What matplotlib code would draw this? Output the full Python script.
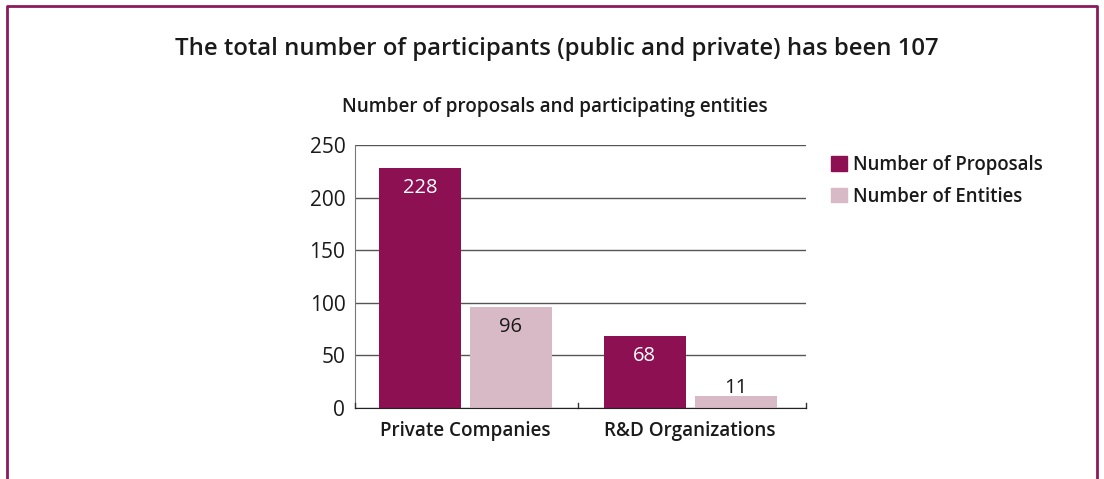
import numpy as np
import matplotlib
matplotlib.use("Agg")
import matplotlib.pyplot as plt
from matplotlib.patches import Patch

plt.rcParams['font.family'] = ['Open Sans', 'DejaVu Sans']

categories = ["Private Companies", "R&D Organizations"]
proposals = [228, 68]
entities = [96, 11]
series_names = ["Number of Proposals", "Number of Entities"]
yticks = [0, 50, 100, 150, 200, 250]

dark = "#8c1052"
light = "#d8b9c6"
text_col = "#1a1a1a"

fig = plt.figure(figsize=(11.04, 4.79), dpi=100)

# purple frame round the whole thing (open at the bottom)
frame = plt.Line2D([0.0065, 0.0065, 0.9935, 0.9935], [0.0, 0.988, 0.988, 0.0],
                   transform=fig.transFigure, color="#8c1a5c", lw=2)
fig.add_artist(frame)

fig.text(0.504, 0.897, "The total number of participants (public and private) has been 107",
         ha="center", va="center", fontsize=17.2, fontweight="semibold", color=text_col)
fig.text(0.503, 0.777, "Number of proposals and participating entities",
         ha="center", va="center", fontsize=13.6, fontweight="semibold", color=text_col)

ax = fig.add_axes([0.3216, 0.1482, 0.4085, 0.549])

x = np.arange(len(categories))
w = 0.364
off = 0.202
b1 = ax.bar(x - off, proposals, w, color=dark, zorder=3)
b2 = ax.bar(x + off, entities, w, color=light, zorder=3)

for rect, v in zip(b1, proposals):
    ax.text(rect.get_x() + rect.get_width() / 2, v - 19, str(v), ha="center", va="center",
            color="white", fontsize=14.5, zorder=4)
for rect, v in zip(b2, entities):
    if v > 30:
        ax.text(rect.get_x() + rect.get_width() / 2, v - 19, str(v), ha="center", va="center",
                color=text_col, fontsize=14.5, zorder=4)
    else:
        ax.text(rect.get_x() + rect.get_width() / 2, v + 8, str(v), ha="center", va="center",
                color=text_col, fontsize=14.5, zorder=4)

ax.set_xlim(-0.49, 1.515)
ax.set_ylim(0, 250)
ax.set_yticks(yticks)
ax.set_yticklabels([str(t) for t in yticks], fontsize=15, color=text_col)
ax.tick_params(axis="y", length=0, pad=7)
ax.yaxis.grid(True, color="#555555", lw=1, zorder=0)

# category labels, tick marks at the group boundaries
ax.set_xticks(x)
ax.set_xticklabels(categories, fontsize=13.6, fontweight="semibold", color=text_col)
ax.tick_params(axis="x", length=0, pad=9)
for xb in [-0.49, 0.5, 1.515]:
    ax.plot([xb, xb], [0, 5], color="#333333", lw=1, zorder=4, clip_on=False)

for s in ["top", "right"]:
    ax.spines[s].set_visible(False)
ax.spines["left"].set_color("#777777")
ax.spines["bottom"].set_color("#222222")
ax.spines["bottom"].set_zorder(5)

handles = [Patch(color=dark), Patch(color=light)]
leg = fig.legend(handles, series_names, loc="upper left", bbox_to_anchor=(0.746, 0.692),
                 frameon=False, fontsize=13.4, handlelength=0.85, handleheight=0.85,
                 handletextpad=0.35, labelspacing=0.62, borderaxespad=0)
for t in leg.get_texts():
    t.set_fontweight("semibold")
    t.set_color(text_col)

fig.savefig("out.png", dpi=100)
